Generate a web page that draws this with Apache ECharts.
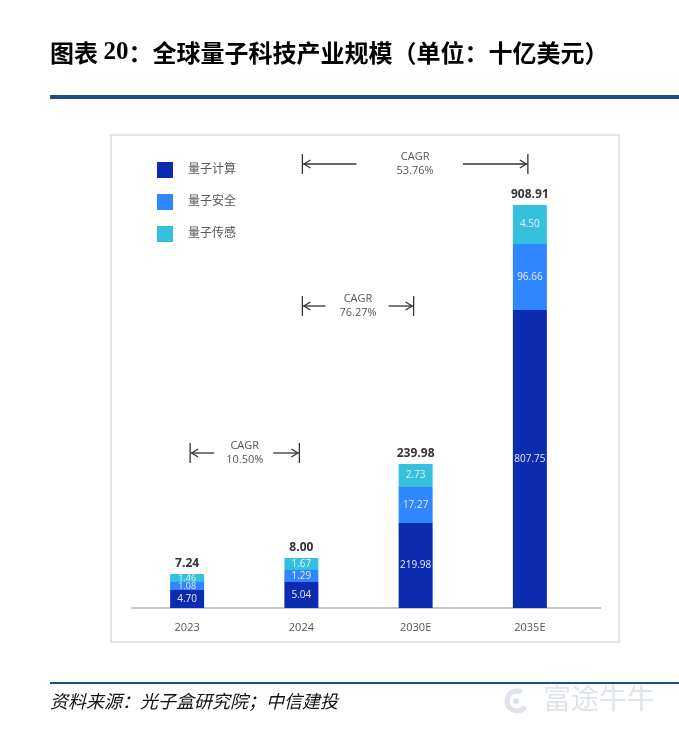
<!DOCTYPE html>
<html>
<head>
  <meta charset="utf-8">
  <title>全球量子科技产业规模</title>
  <script src="https://cdn.jsdelivr.net/npm/echarts@6/dist/echarts.min.js"></script>
  <style>
    html, body { margin: 0; padding: 0; background: #fff; }
  </style>
</head>
<body>
<div id="main" style="width: 679px;height:737px;"></div>
<script type="text/javascript">
  // 数据（单位：十亿美元）
  var years = ['2023', '2024', '2030E', '2035E'];
  var computing = [4.70, 5.04, 219.98, 807.75];   // 量子计算
  var security = [1.08, 1.29, 17.27, 96.66];      // 量子安全
  var sensing = [1.46, 1.67, 2.73, 4.50];         // 量子传感
  var totals = [7.24, 8.00, 239.98, 908.91];
  // 原图柱子不按比例绘制，这里是从图上读出的柱段长度（显示单位）
  var computingShown = [18, 26, 85, 298];
  var securityShown = [8, 12, 36, 66];
  var sensingShown = [8, 12, 23, 39];
  // CAGR 标注：起止年份与数值
  var cagrFrom = [0, 1, 1];
  var cagrTo = [1, 2, 3];
  var cagrText = ['10.50%', '76.27%', '53.76%'];

  var colors = ['#0b2bb0', '#2f87ff', '#35c1de'];
  var font = '"Open Sans", "Noto Sans CJK SC", sans-serif';

  var myChart = echarts.init(document.getElementById('main'));

  function seg(shown, real) {
    return shown.map(function (v, i) {
      return { value: v, real: real[i], label: { fontSize: v < 10 ? 9 : 10 } };
    });
  }
  var innerLabel = {
    show: true,
    position: 'inside',
    color: '#e6ecff',
    fontSize: 10,
    fontFamily: font,
    formatter: function (p) { return p.data.real.toFixed(2); }
  };

  var option = {
    animation: false,
    textStyle: { fontFamily: font },
    color: colors,
    legend: {
      orient: 'vertical',
      left: 152,
      top: 157,
      itemWidth: 16,
      itemHeight: 16,
      itemGap: 16,
      icon: 'rect',
      data: ['量子计算', '量子安全', '量子传感'],
      textStyle: { color: '#555', fontSize: 12, padding: [0, 0, 0, 10], fontFamily: font }
    },
    grid: { left: 130, right: 92, top: 198, bottom: 129 },
    xAxis: {
      type: 'category',
      data: years,
      axisLine: { show: false },
      axisTick: { show: false },
      axisLabel: { color: '#555', fontSize: 11, margin: 14, fontFamily: font }
    },
    yAxis: {
      type: 'value',
      min: 0,
      max: 410,
      show: false,
      splitLine: { show: false }
    },
    series: [
      { name: '量子计算', type: 'bar', stack: 'a', barWidth: 34, data: seg(computingShown, computing), label: innerLabel },
      { name: '量子安全', type: 'bar', stack: 'a', barWidth: 34, data: seg(securityShown, security), label: innerLabel },
      { name: '量子传感', type: 'bar', stack: 'a', barWidth: 34, data: seg(sensingShown, sensing), label: innerLabel },
      {
        name: '合计', type: 'bar', stack: 'a', barWidth: 34,
        data: totals.map(function (t) { return { value: 0, real: t }; }),
        itemStyle: { color: 'transparent' },
        label: {
          show: true, position: 'top', distance: 4,
          color: '#333', fontWeight: 'bold', fontSize: 12, fontFamily: font,
          formatter: function (p) { return p.data.real.toFixed(2); }
        }
      }
    ]
  };
  myChart.setOption(option);

  // 标题、边框、标注
  var g = [];
  g.push({
    type: 'text', left: 50, top: 40,
    style: {
      text: '{a|图表 }{b|20}{a|：全球量子科技产业规模（单位：十亿美元）}',
      rich: {
        a: { fontSize: 24, fontWeight: 'bold', fill: '#000', fontFamily: '"Noto Sans CJK SC", sans-serif' },
        b: { fontSize: 25, fontWeight: 'bold', fill: '#000', fontFamily: '"Liberation Serif", serif' }
      }
    }
  });
  g.push({ type: 'rect', shape: { x: 50, y: 95, width: 629, height: 4 }, style: { fill: '#1d4f86' } });
  g.push({ type: 'rect', shape: { x: 111, y: 135, width: 508, height: 507 }, style: { fill: 'none', stroke: '#e3e3e3', lineWidth: 2 } });
  g.push({ type: 'line', shape: { x1: 131, y1: 608, x2: 601, y2: 608 }, style: { stroke: '#c6c6c6', lineWidth: 2 } });
  g.push({ type: 'rect', shape: { x: 50, y: 682, width: 629, height: 2 }, style: { fill: '#1d4f86' } });
  g.push({
    type: 'text', left: 50, top: 692,
    style: { text: '资料来源：光子盒研究院；中信建投', fontSize: 18, fontStyle: 'italic', fill: '#111', fontFamily: '"Noto Sans CJK SC", sans-serif' }
  });
  // 水印
  g.push({ type: 'arc', shape: { cx: 517, cy: 701, r: 10, startAngle: 0.6, endAngle: 5.2 }, style: { stroke: '#dfe4ea', lineWidth: 5, fill: 'none' } });
  g.push({ type: 'circle', shape: { cx: 516, cy: 701, r: 3 }, style: { fill: '#dfe4ea' } });
  g.push({
    type: 'text', left: 543, top: 684,
    style: { text: '富途牛牛', fontSize: 28, fill: '#dfe4ea', fontFamily: '"Noto Sans CJK SC", sans-serif' }
  });

  // CAGR 箭头：y 位置（像素）
  var cagrY = [453, 306, 164];
  var cagrArrowLen = [[24, 26], [23, 25], [54, 65]];
  for (var k = 0; k < cagrText.length; k++) {
    var x1 = myChart.convertToPixel({ xAxisIndex: 0 }, years[cagrFrom[k]]);
    var x2 = myChart.convertToPixel({ xAxisIndex: 0 }, years[cagrTo[k]]);
    if (k === 0) x1 += 3;
    if (k >= 1 && cagrFrom[k] === 1) x1 += 1;
    x2 -= 2;
    var y = cagrY[k];
    var st = { stroke: '#333', lineWidth: 1.3, fill: 'none' };
    g.push({ type: 'line', shape: { x1: x1, y1: y - 10, x2: x1, y2: y + 10 }, style: st });
    g.push({ type: 'line', shape: { x1: x2, y1: y - 10, x2: x2, y2: y + 10 }, style: st });
    g.push({ type: 'line', shape: { x1: x1 + 1, y1: y, x2: x1 + cagrArrowLen[k][0], y2: y }, style: st });
    g.push({ type: 'polyline', shape: { points: [[x1 + 8, y - 4], [x1 + 1.5, y], [x1 + 8, y + 4]] }, style: st });
    g.push({ type: 'line', shape: { x1: x2 - cagrArrowLen[k][1], y1: y, x2: x2 - 1, y2: y }, style: st });
    g.push({ type: 'polyline', shape: { points: [[x2 - 8, y - 4], [x2 - 1.5, y], [x2 - 8, y + 4]] }, style: st });
    g.push({
      type: 'text', x: (x1 + x2) / 2, y: y,
      style: {
        text: 'CAGR\n' + cagrText[k], align: 'center', verticalAlign: 'middle',
        fontSize: 11, lineHeight: 14, fill: '#555', fontFamily: font
      }
    });
  }
  myChart.setOption({ graphic: g });
</script>
</body>
</html>
